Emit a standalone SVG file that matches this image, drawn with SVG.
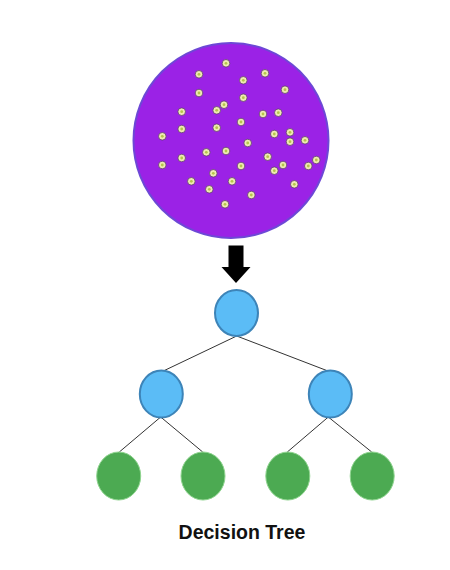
<svg xmlns="http://www.w3.org/2000/svg" width="450" height="570" viewBox="0 0 450 570">
<defs>
<style>
.dot{fill:#efeab2;stroke:#5e3d70;stroke-width:0.8}
.dc{fill:#b5c64a}
.blue{fill:#5bbcf6;stroke:#3d84b8;stroke-width:2}
.green{fill:#4caa52;stroke:#8fd48f;stroke-width:1}
.edge{stroke:#333;stroke-width:1;fill:none}
</style>
<g id="d"><circle class="dot" r="3.8"/><circle class="dc" r="1.4"/></g>
</defs>
<rect width="450" height="570" fill="#fff"/>
<g id="dataset">
<circle cx="231" cy="140.5" r="97.5" fill="#9b22e6" stroke="#6d48d6" stroke-width="2"/>
<use href="#d" x="226" y="63.3"/><use href="#d" x="199" y="74.3"/><use href="#d" x="265" y="73.3"/>
<use href="#d" x="243.3" y="80.3"/><use href="#d" x="285" y="89.7"/><use href="#d" x="199" y="93"/>
<use href="#d" x="243.3" y="97.7"/><use href="#d" x="224" y="104.7"/><use href="#d" x="216.7" y="110.3"/>
<use href="#d" x="181.7" y="111.7"/><use href="#d" x="263" y="114"/><use href="#d" x="278.3" y="112.7"/>
<use href="#d" x="241" y="122"/><use href="#d" x="181.7" y="129"/><use href="#d" x="216.7" y="127.7"/>
<use href="#d" x="162.3" y="136.3"/><use href="#d" x="274.3" y="134"/><use href="#d" x="290" y="132.3"/>
<use href="#d" x="290" y="141.7"/><use href="#d" x="305" y="140.3"/><use href="#d" x="247.7" y="143"/>
<use href="#d" x="206.3" y="152.3"/><use href="#d" x="226" y="151"/><use href="#d" x="267.7" y="156.7"/>
<use href="#d" x="181.7" y="158"/><use href="#d" x="162.3" y="165"/><use href="#d" x="241" y="166"/>
<use href="#d" x="283" y="165"/><use href="#d" x="308.3" y="166"/><use href="#d" x="316.3" y="160"/>
<use href="#d" x="274.3" y="170.7"/><use href="#d" x="213.3" y="173.3"/><use href="#d" x="191.3" y="181.3"/>
<use href="#d" x="232" y="181.3"/><use href="#d" x="294.3" y="184.3"/><use href="#d" x="209.3" y="189.3"/>
<use href="#d" x="251.3" y="195"/><use href="#d" x="225" y="204.3"/>
</g>
<g id="arrow">
<polygon points="228.5,245.5 243.5,245.5 243.5,267 250.5,267 236,283 221.5,267 228.5,267" fill="#000"/>
</g>
<g id="connectors">
<line class="edge" x1="236.7" y1="336" x2="163.3" y2="371"/>
<line class="edge" x1="236.7" y1="336" x2="326.7" y2="370.5"/>
<line class="edge" x1="160.7" y1="417" x2="119.3" y2="452"/>
<line class="edge" x1="160.7" y1="417" x2="202.7" y2="452"/>
<line class="edge" x1="328.3" y1="417" x2="287.3" y2="452"/>
<line class="edge" x1="328.3" y1="417" x2="371.7" y2="452"/>
</g>
<g id="root"><ellipse class="blue" cx="236.5" cy="313" rx="21.5" ry="23"/></g>
<g id="mid-left"><ellipse class="blue" cx="161.3" cy="394" rx="21.5" ry="23.5"/></g>
<g id="mid-right"><ellipse class="blue" cx="330.3" cy="394" rx="21.5" ry="23.5"/></g>
<g id="leaf-1"><ellipse class="green" cx="118.7" cy="476" rx="22" ry="24"/></g>
<g id="leaf-2"><ellipse class="green" cx="203" cy="476" rx="22" ry="24"/></g>
<g id="leaf-3"><ellipse class="green" cx="287.8" cy="476" rx="22" ry="24"/></g>
<g id="leaf-4"><ellipse class="green" cx="372.2" cy="476" rx="22" ry="24"/></g>
<text x="242" y="539" text-anchor="middle" font-family="Liberation Sans, Arial, sans-serif" font-weight="bold" font-size="19.5" fill="#111">Decision Tree</text>
</svg>
